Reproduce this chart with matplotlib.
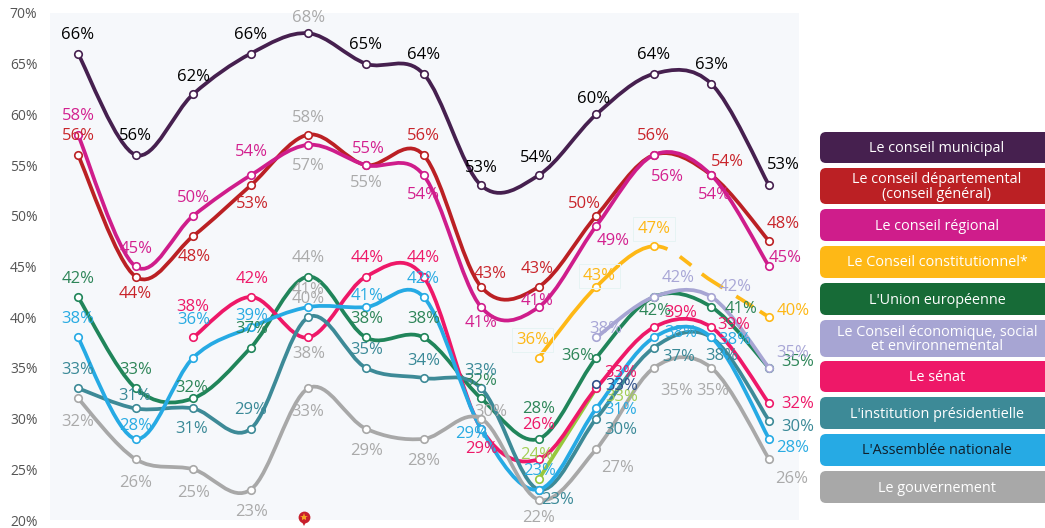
import numpy as np
import matplotlib
matplotlib.use("Agg")
import matplotlib.pyplot as plt
from matplotlib.path import Path
from matplotlib.patches import PathPatch, FancyBboxPatch

plt.rcParams["font.family"] = ["Open Sans", "DejaVu Sans"]

W, H = 1045, 528
n = None

# values, one point per survey wave
municipal = [66, 56, 62, 66, 68, 65, 64, 53, 54, 60, 64, 63, 53]
departemental = [56, 44, 48, 53, 58, 55, 56, 43, 43, 50, 56, 54, 47.5]
regional = [58, 45, 50, 54, 57, 55, 54, 41, 41, 49, 56, 54, 45]
constitutionnel = [n, n, n, n, n, n, n, n, 36, 43, 47, 43.6, 40]
union_eu = [42, 33, 32, 37, 44, 38, 38, 32, 28, 36, 42, 41, 35]
cese = [n, n, n, n, n, n, n, n, n, 38, 42, 42, 35]
senat = [n, n, 38, 42, 38, 44, 44, 29, 26, 33, 39, 39, 31.5]
presidence = [33, 31, 31, 29, 40, 35, 34, 33, 23, 30, 37, 38, 29.8]
assemblee = [38, 28, 36, 39, 41, 41, 42, 29, 23, 31, 38, 38, 28]
gouvernement = [32, 26, 25, 23, 33, 29, 28, 30, 22, 27, 35, 35, 26]
extra_green = [n, n, n, n, n, n, n, n, 24, 33, n, n, n]
extra_navy = [n, n, n, n, n, n, n, n, n, 33.4, n, n, n]

legend_names = ["Le conseil municipal", "Le conseil départemental\n(conseil général)",
                "Le conseil régional", "Le Conseil constitutionnel*", "L'Union européenne",
                "Le Conseil économique, social\net environnemental", "Le sénat",
                "L'institution présidentielle", "L'Assemblée nationale", "Le gouvernement"]
legend_colors = ["#46204f", "#bb2024", "#cf1d8b", "#feb816", "#176b37",
                 "#a7a5d3", "#ee1868", "#3d8a97", "#26aae4", "#a8a8a8"]
legend_tops = [132, 168, 209, 246, 283, 320, 361, 397, 434, 471]
legend_bottoms = [163, 204, 241, 278, 315, 357, 392, 429, 466, 503]

GREY = "#aaaaaa"
LW = 2.7
# the dashed stretch has uneven dashes in the source, lengths in pixels
dash_px = [14, 14.5, 14.5, 13.5, 25, 16, 20, 8, 14, 40]

# label offsets from the marker, in pixels (x right, y up)
off_muni = [(0, 20), (0, 20), (0, 19), (0, 20), (0, 17), (0, 20), (0, 20), (0, 19), (-2, 19), (-3, 17), (0, 20), (0, 20), (14, 22)]
off_dept = [(0, 20), (0, -16), (1, -19), (2, -17), (0, 18), (0, -16), (0, 20), (9, 14), (-2, 19), (-12, 13), (0, 20), (16, 15), (14, 19)]
off_reg = [(0, 20), (1, 19), (0, 19), (1, 25), (0, -20), (2, 18), (0, -18), (0, -14), (-2, 8), (17, -14), (14, -21), (3, -18), (16, 9.5)]
off_const = [(-6, 19), (3, 12), (0, 19), n, (24, 8)]
off_ue = [(0, 19), (0, 20), (-1, 12), (1, 20), (0, 20), (1, 19.5), (0, 19.5), (0, 19), (0, 31), (-19, 3), (1, -13), (30, 0), (29, 7)]
off_cese = [(9, 10), (24, 20), (24, 11), (24, 16)]
off_senat = [(0, 31.5), (1, 19), (0, -15.5), (1, 20), (0, 20), (0, -19), (0, 36), (24, 17), (27, 16), (22, 4), (29, 1)]
off_pres = [(0, 20), (-1, 13.5), (-2, -19.5), (0, 20), (0, 20), (1, 19), (0, 19), (0, 19), (19, -9), (24, -10), (25, -8), (10, -17.5), (29, -5)]
off_an = [(0, 19.5), (0, 14), (1, 39), (1, 13), (0, 19), (1, 13), (0, 19), (-10, -4), (1, 20), (24, 0), (27, 5.5), (23, -1.5), (24, -8)]
off_gouv = [(0, -22), (0, -22), (0, -22), (1, -21), (-1, -22), (1, -21), (0, -21), (10, 8.6), (0, -17), (21, -17), (23, -22), (1, -22), (23, -18)]
off_green = [(-2, 26), (25, -7)]
off_navy = [(25, 0)]

series = [
    (municipal, "#46204f", "black", off_muni),
    (departemental, "#bb2024", "#c9252b", off_dept),
    (regional, "#cf1d8b", "#d3218f", off_reg),
    (constitutionnel, "#feb816", "#fdb716", off_const),
    (union_eu, "#20855a", "#2d8558", off_ue),
    (cese, "#a7a5d3", "#a8a6d6", off_cese),
    (extra_green, "#97c83d", "#a3cf55", off_green),
    (senat, "#ee1868", "#ee1868", off_senat),
    (presidence, "#3d8a97", "#3a8997", off_pres),
    (assemblee, "#26aae4", "#29abe2", off_an),
    (gouvernement, "#a8a8a8", GREY, off_gouv),
    (extra_navy, "#2f4f8a", "#2f4f8a", off_navy),
]


def spline(xs, ys):
    # catmull-rom as bezier segments, end points keep their own control point
    verts = [(xs[0], ys[0])]
    codes = [Path.MOVETO]
    for i in range(len(xs) - 1):
        x0, y0 = xs[max(i - 1, 0)], ys[max(i - 1, 0)]
        x3, y3 = xs[min(i + 2, len(xs) - 1)], ys[min(i + 2, len(xs) - 1)]
        c1 = (xs[i] + (xs[i + 1] - x0) / 6, ys[i] + (ys[i + 1] - y0) / 6)
        c2 = (xs[i + 1] - (x3 - xs[i]) / 6, ys[i + 1] - (y3 - ys[i]) / 6)
        verts += [c1, c2, (xs[i + 1], ys[i + 1])]
        codes += [Path.CURVE4] * 3
    return Path(verts, codes)


fig = plt.figure(figsize=(W / 100, H / 100), dpi=100, facecolor="white")
ax = fig.add_axes([50 / W, (H - 520) / H, 749 / W, 507 / H], facecolor="#f6f8fb")
ax.set_xlim(-0.486, 12.52)
ax.set_ylim(20, 70)
ax.set_xticks([])
ax.set_yticks(range(20, 71, 5))
ax.set_yticklabels([f"{v}%" for v in range(20, 71, 5)], fontsize=10, color="#555555")
ax.tick_params(axis="y", length=0, pad=9)
for s in ax.spines.values():
    s.set_visible(False)

for order, (values, line_col, text_col, offsets) in enumerate(series):
    idx = [i for i, v in enumerate(values) if v is not None]
    xs = np.array(idx, dtype=float)
    ys = np.array([values[i] for i in idx], dtype=float)
    z = 2 + order * 0.1
    if len(idx) > 1:
        style = dict(fill=False, edgecolor=line_col, lw=LW, capstyle="round", zorder=z)
        if values is constitutionnel:
            p = spline(xs, ys)
            # solid up to the 47% point, dashed after it
            k = 1 + 3 * 2
            ax.add_patch(PathPatch(Path(p.vertices[:k], p.codes[:k]), **style))
            rest = Path(p.vertices[k - 1:], [Path.MOVETO] + list(p.codes[k:]))
            dashes = tuple(d * 0.72 / LW for d in dash_px)
            ax.add_patch(PathPatch(rest, linestyle=(0, dashes), **{**style, "capstyle": "butt"}))
        else:
            ax.add_patch(PathPatch(spline(xs, ys), **style))
    for j, i in enumerate(idx):
        if offsets[j] is None:
            continue  # no marker or label on the dashed stretch
        ax.plot(i, values[i], "o", ms=5.4, mfc="white", mec=line_col, mew=1.2, zorder=z + 0.01)
        col = text_col
        # the fifth wave is all grey in the source, and one of the sixth
        if i == 4 or (values is departemental and i == 5):
            col = GREY
        box = None
        if values is constitutionnel and i < 11:
            box = dict(boxstyle="square,pad=0.25", fc="none", ec="#e6f3f3", lw=0.7)
        dx, dy = offsets[j]
        ax.annotate(f"{values[i]:.0f}%", (i, values[i]), xytext=(dx, dy - 1.5), textcoords="offset pixels",
                    ha="center", va="center", fontsize=12, color=col, zorder=10 + order * 0.01,
                    annotation_clip=False, bbox=box)

# overlay in image pixels for the legend boxes and the pin
over = fig.add_axes([0, 0, 1, 1], facecolor="none")
over.set_xlim(0, W)
over.set_ylim(H, 0)
over.axis("off")
for name, col, top, bot in zip(legend_names, legend_colors, legend_tops, legend_bottoms):
    over.add_patch(FancyBboxPatch((825, top + 5), 240, bot - top - 10, boxstyle="round,pad=5,rounding_size=6",
                                  fc=col, ec="none"))
    txt = "#10202c" if name.startswith("L'Assemblée") else "white"
    over.text(937, (top + bot) / 2 + 1, name, ha="center", va="center", fontsize=10.4, color=txt, linespacing=1.0)

over.plot([304], [521.5], "v", ms=5.5, color="#c8202c", mew=0)
over.plot([304], [516.5], "o", ms=8.5, color="#c8202c", mew=0)
over.plot([304], [516.5], "*", ms=6, color="#f5a623", mew=0)

fig.savefig("out.png", dpi=100)
